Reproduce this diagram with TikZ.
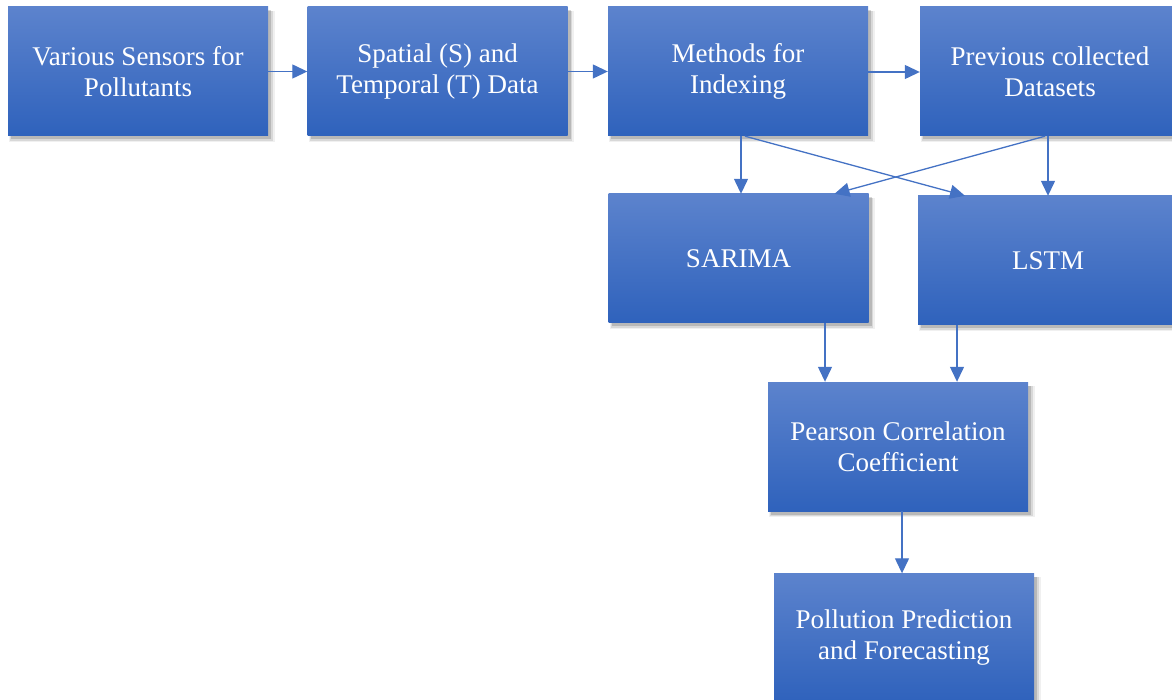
\documentclass[tikz,border=0pt]{standalone}
\usepackage{fontspec}
\setmainfont{Liberation Serif}
\usetikzlibrary{arrows.meta,shadows}
\definecolor{boxtop}{RGB}{92,131,205}
\definecolor{boxbot}{RGB}{47,98,188}
\definecolor{arrcol}{RGB}{68,114,196}
\tikzset{
  blk/.style={rectangle, minimum width=260pt, minimum height=129pt, inner sep=0pt,
    top color=boxtop, bottom color=boxbot, draw=none,
    drop shadow={shadow xshift=4pt, shadow yshift=-5pt, shadow scale=1.02, opacity=0.06, fill=black},
    drop shadow={shadow xshift=3.5pt, shadow yshift=-4.5pt, shadow scale=1.01, opacity=0.1, fill=black},
    drop shadow={shadow xshift=3pt, shadow yshift=-3.5pt, opacity=0.15, fill=black},
    text=white, align=center,
    font=\fontsize{27}{31}\selectfont},
  arr/.style={draw=arrcol, line width=1.3pt, -{Triangle[width=14pt,length=15pt]}}
}
\begin{document}
\begin{tikzpicture}[x=1pt,y=-1pt]
\useasboundingbox (0,0) rectangle (1172,700);
\node[blk] (A) at (138,71.5) {Various Sensors for\\Pollutants};
\node[blk] (B) at (437.5,71.5) {Spatial (S) and\\Temporal (T) Data};
\node[blk] (C) at (738,71.5) {Methods for\\Indexing};
\node[blk] (D) at (1050,71.5) {Previous collected\\Datasets};
\node[blk] (E) at (738.5,258.5) {SARIMA};
\node[blk] (F) at (1048,260.5) {LSTM};
\node[blk] (G) at (898,446.5) {Pearson Correlation\\Coefficient};
\node[blk] (H) at (904,638) {Pollution Prediction\\and Forecasting};
\draw[arr] (A.east) -- (B.west);
\draw[arr] (B.east) -- (C.west);
\draw[arr] ([yshift=-0.5pt]C.east) -- ([yshift=-0.5pt]C.east -| D.west);
\draw[arr] ([xshift=3pt]C.south) -- ([xshift=3pt]C.south |- E.north);
\draw[arr] ([xshift=-2pt]D.south) -- ([xshift=-2pt]D.south |- F.north);
\draw[arr] ([xshift=7pt]C.south) -- ([xshift=-83pt]F.north);
\draw[arr] ([xshift=-5pt]D.south) -- ([xshift=96pt]E.north);
\draw[arr] ([xshift=86.5pt]E.south) -- ([xshift=86.5pt]E.south |- G.north);
\draw[arr] ([xshift=-91pt]F.south) -- ([xshift=-91pt]F.south |- G.north);
\draw[arr] ([xshift=4pt]G.south) -- ([xshift=4pt]G.south |- H.north);
\end{tikzpicture}
\end{document}
